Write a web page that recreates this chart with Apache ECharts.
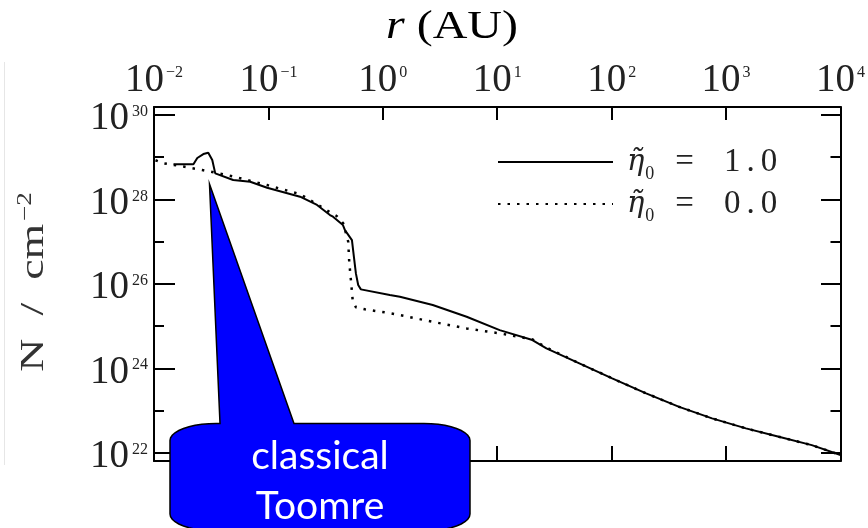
<!DOCTYPE html>
<html><head><meta charset="utf-8">
<script src="https://cdn.jsdelivr.net/npm/echarts@6/dist/echarts.min.js"></script>
<style>html,body{margin:0;padding:0;background:#fff}#c{width:868px;height:528px}</style>
</head><body><div id="c"></div>
<script>
// r (AU) and column density N (cm^-2)
const rSolid = [0.0148, 0.0221, 0.0239, 0.0270, 0.0298, 0.0310, 0.0323, 0.0343, 0.0492, 0.0693, 0.0974, 0.189, 0.266, 0.345, 0.367, 0.448, 0.4664, 0.537, 0.5587, 0.5815, 0.609, 0.643, 1.151, 1.41, 2.73, 5.40, 10.5, 20.3, 26.9, 52.2, 101, 200, 389, 754, 1491, 2892, 5610, 10000];
const nSolid = [6.8e28, 6.8e28, 9.6e28, 1.19e29, 1.28e29, 1.4e29, 8.6e28, 4.15e28, 2.88e28, 2.63e28, 1.89e28, 1.16e28, 7.4e27, 4.27e27, 3.9e27, 2.47e27, 1.88e27, 1.09e27, 4.38e26, 1.77e26, 9.4e25, 7.4e25, 5.43e25, 4.94e25, 3.15e25, 1.66e25, 8.0e24, 4.66e24, 2.96e24, 1.31e24, 5.77e23, 2.54e23, 1.22e23, 6.5e22, 3.77e22, 2.38e22, 1.51e22, 8.8e21];
const rDotted = [0.0103, 0.0121, 0.0181, 0.0264, 0.0323, 0.0492, 0.0974, 0.189, 0.282, 0.357, 0.395, 0.4507, 0.4983, 0.5084, 0.526, 0.5443, 0.5815, 0.697, 1.041, 1.41, 2.73, 5.40, 10.5, 20.3, 26.9, 52.2, 101, 200, 389, 754, 1491, 2892, 5610, 10000];
const nDotted = [8.5e28, 7.2e28, 6.0e28, 4.98e28, 4.46e28, 3.5e28, 2.19e28, 1.34e28, 6.98e27, 4.69e27, 4.05e27, 2.72e27, 9.96e26, 3.34e26, 1.23e26, 4.29e25, 2.77e25, 2.49e25, 2.11e25, 1.82e25, 1.26e25, 8.8e24, 6.7e24, 4.84e24, 3.1e24, 1.31e24, 5.77e23, 2.54e23, 1.22e23, 6.5e22, 3.77e22, 2.38e22, 1.51e22, 8.8e21];
const etaValues = ['1.0', '0.0'];
const seriesNames = ['η̃₀ = 1.0', 'η̃₀ = 0.0'];
const xTickExp = [-2, -1, 0, 1, 2, 3, 4];
const yTickExp = [22, 24, 26, 28, 30];   // labelled (long-tick) decades
const xRange = [0.01, 10000];
const yRange = [6.35e21, 1.55e30];
const titleParts = ['r', ' (AU)'];
const yNameParts = ['N  /  cm', '−2'];
const calloutLines = ['classical', 'Toomre'];

const serif = '"Liberation Serif", "Times New Roman", serif';
const txt = '#222';

function powLabel(v, list) {
  const lg = Math.log10(v);
  const e = Math.round(lg);
  if (Math.abs(lg - e) > 1e-6 || list.indexOf(e) < 0) return '';
  return '{b|10}{s|' + (e < 0 ? '−' + (-e) : e) + '}';
}

const chart = echarts.init(document.getElementById('c'), null, {renderer: 'canvas'});

// main plot box
const G = {left: 154, right: 26, top: 107, bottom: 67, height: 354};
// second (tick-only) grid spanning exactly the labelled decades
const lgMin = Math.log10(yRange[0]), lgMax = Math.log10(yRange[1]);
const perDec = G.height / (lgMax - lgMin);
const yMinExp = Math.min(...yTickExp), yMaxExp = Math.max(...yTickExp);
const G2 = {left: G.left, right: G.right,
  top: G.top + (lgMax - yMaxExp) * perDec,
  bottom: G.bottom + (yMinExp - lgMin) * perDec};

const tickStyle = {color: '#000', width: 2};

function logY(pos, labels) {
  return {
    type: 'log', logBase: 10, gridIndex: 0, min: yRange[0], max: yRange[1], position: pos, splitNumber: 8,
    axisLine: {show: true, lineStyle: {color: '#000', width: 2}},
    axisTick: {show: true, inside: true, length: 10, lineStyle: tickStyle},
    splitLine: {show: false}, minorTick: {show: false},
    axisLabel: labels ? {
      show: true, margin: 6, hideOverlap: false,
      formatter: v => powLabel(v, yTickExp),
      rich: {
        b: {fontFamily: serif, fontSize: 39, color: txt, lineHeight: 30, padding: [8, 0, 0, 0]},
        s: {fontFamily: serif, fontSize: 16, color: txt, lineHeight: 16, verticalAlign: 'top', padding: [4, 0, 0, 3]}
      }
    } : {show: false}
  };
}
function longTicks(pos) {
  return {
    type: 'value', gridIndex: 1, min: yMinExp, max: yMaxExp, interval: 2, position: pos,
    axisLine: {show: false}, axisLabel: {show: false}, splitLine: {show: false},
    axisTick: {show: true, inside: true, length: 21, lineStyle: tickStyle}
  };
}

const option = {
  backgroundColor: '#fff',
  animation: false,
  grid: [
    {left: G.left, right: G.right, top: G.top, bottom: G.bottom, containLabel: false},
    {left: G2.left, right: G2.right, top: G2.top, bottom: G2.bottom, containLabel: false}
  ],
  legend: {
    orient: 'vertical', left: 497, top: 141, padding: 0, itemGap: 0,
    itemWidth: 115, itemHeight: 12, selectedMode: false,
    itemStyle: {opacity: 0, borderWidth: 0},
    data: seriesNames,
    formatter: name => {
      const i = seriesNames.indexOf(name);
      const v = etaValues[i].split('').map(ch => '{v|' + ch + '}').join('');
      return '{eta|η̃}{sub|0}{eq|=}' + v;
    },
    textStyle: {
      color: txt,
      rich: {
        eta: {fontFamily: '"DejaVu Serif", serif', fontStyle: 'italic', fontSize: 29, lineHeight: 42, color: txt, padding: [0, 0, 0, 9]},
        sub: {fontFamily: serif, fontSize: 18, lineHeight: 18, color: txt, padding: [24, 0, 0, 1]},
        eq: {fontFamily: serif, fontSize: 33, lineHeight: 42, color: txt, padding: [0, 27, 0, 21]},
        v: {fontFamily: serif, fontSize: 33, lineHeight: 42, color: txt, padding: [0, 3, 0, 3]}
      }
    }
  },
  xAxis: [
    {
      type: 'log', logBase: 10, gridIndex: 0, min: xRange[0], max: xRange[1], position: 'top',
      axisLine: {show: true, lineStyle: {color: '#000', width: 2}},
      axisTick: {show: true, inside: true, length: 13, lineStyle: tickStyle},
      splitLine: {show: false}, minorTick: {show: false},
      axisLabel: {
        show: true, margin: 8,
        formatter: v => powLabel(v, xTickExp),
        rich: {
          b: {fontFamily: serif, fontSize: 39, color: txt, lineHeight: 36},
          s: {fontFamily: serif, fontSize: 16, color: txt, lineHeight: 16, verticalAlign: 'top', padding: [2, 0, 0, 2]}
        }
      }
    },
    {
      type: 'log', logBase: 10, gridIndex: 0, min: xRange[0], max: xRange[1], position: 'bottom',
      axisLine: {show: true, lineStyle: {color: '#000', width: 2}},
      axisTick: {show: true, inside: true, length: 15, lineStyle: tickStyle},
      splitLine: {show: false}, minorTick: {show: false},
      axisLabel: {show: false}
    },
    {type: 'value', gridIndex: 1, min: 0, max: 1, show: false}
  ],
  yAxis: [
    logY('left', true),
    logY('right', false),
    longTicks('left'),
    longTicks('right')
  ],
  series: [
    {
      name: seriesNames[1], type: 'line', xAxisIndex: 0, yAxisIndex: 0,
      data: rDotted.map((r, i) => [r, nDotted[i]]),
      symbol: 'none', showSymbol: false, z: 2,
      itemStyle: {color: '#000'},
      lineStyle: {color: '#000', width: 2.5, type: [2.5, 7], cap: 'butt'}
    },
    {
      name: seriesNames[0], type: 'line', xAxisIndex: 0, yAxisIndex: 0,
      data: rSolid.map((r, i) => [r, nSolid[i]]),
      symbol: 'none', showSymbol: false, z: 3,
      itemStyle: {color: '#000'},
      lineStyle: {color: '#000', width: 2}
    }
  ]
};

chart.setOption(option);

// decorations: title, y-axis name, faint image border, callout
const g = [];
g.push({
  type: 'text', x: 452, y: 27, scaleX: 1.2, z: 10,
  style: {
    text: '{i|' + titleParts[0] + '}{n|' + titleParts[1] + '}',
    textAlign: 'center', textVerticalAlign: 'middle',
    rich: {
      i: {fontFamily: serif, fontStyle: 'italic', fontSize: 40, fill: '#000'},
      n: {fontFamily: serif, fontSize: 40, fill: '#000'}
    }
  }
});
g.push({
  type: 'text', x: 34, y: 282, rotation: Math.PI / 2, scaleX: 1.35, z: 10,
  style: {
    text: '{a|' + yNameParts[0] + '}{s|' + yNameParts[1] + '}',
    textAlign: 'center', textVerticalAlign: 'middle',
    rich: {
      a: {fontFamily: serif, fontSize: 34, fill: '#333', lineHeight: 36},
      s: {fontFamily: serif, fontSize: 20, fill: '#333', lineHeight: 20, verticalAlign: 'top', padding: [0, 0, 0, 2]}
    }
  }
});
g.push({type: 'line', shape: {x1: 4.5, y1: 62, x2: 4.5, y2: 465}, style: {stroke: '#e6e6e6', lineWidth: 1}, z: 1});

function calloutPoints() {
  const x0 = 170, x1 = 470, y0 = 423.5, y1 = 531, rx = 46, ry = 17;
  const pts = [];
  const arc = (cx, cy, a0, a1) => {
    for (let k = 0; k <= 10; k++) {
      const a = a0 + (a1 - a0) * k / 10;
      pts.push([cx + rx * Math.cos(a), cy + ry * Math.sin(a)]);
    }
  };
  arc(x0 + rx, y0 + ry, Math.PI, 1.5 * Math.PI);
  pts.push([220, y0], [209.5, 184], [294, y0]);
  arc(x1 - rx, y0 + ry, 1.5 * Math.PI, 2 * Math.PI);
  arc(x1 - rx, y1 - ry, 0, 0.5 * Math.PI);
  arc(x0 + rx, y1 - ry, 0.5 * Math.PI, Math.PI);
  return pts;
}
g.push({
  type: 'polygon', z: 20, shape: {points: calloutPoints()},
  style: {fill: '#0000ff', stroke: '#000', lineWidth: 1.5}
});
g.push({
  type: 'text', x: 320, y: 481, z: 21,
  style: {
    text: calloutLines.join('\n'), fill: '#fff',
    font: '39px Lato, "Open Sans", sans-serif', lineHeight: 50,
    textAlign: 'center', textVerticalAlign: 'middle'
  }
});
chart.setOption({graphic: g});
</script>
</body></html>
